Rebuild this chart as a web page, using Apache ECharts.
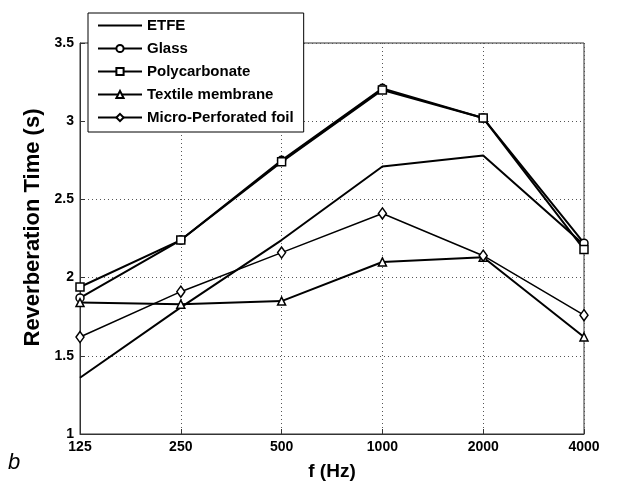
<!DOCTYPE html>
<html>
<head>
<meta charset="utf-8">
<script src="https://cdn.jsdelivr.net/npm/echarts@6/dist/echarts.min.js"></script>
<style>
  html, body { margin: 0; padding: 0; background: #fff; }
  #chart { width: 637px; height: 486px; }
</style>
</head>
<body>
<div id="chart"></div>
<script>
// frequency bands (Hz)
const categories = ["125", "250", "500", "1000", "2000", "4000"];

// reverberation time (s) per material
const etfe = [1.36, 1.81, 2.24, 2.71, 2.78, 2.21];
const glass = [1.87, 2.24, 2.75, 3.21, 3.02, 2.22];
const polycarbonate = [1.94, 2.24, 2.74, 3.20, 3.02, 2.18];
const textileMembrane = [1.84, 1.83, 1.85, 2.10, 2.13, 1.62];
const microPerforated = [1.62, 1.91, 2.16, 2.41, 2.14, 1.76];

const yTicks = [1, 1.5, 2, 2.5, 3, 3.5];

const chart = echarts.init(document.getElementById("chart"));

const tickFont = {
  fontFamily: "Liberation Sans Narrow, Liberation Sans, Arial",
  fontWeight: "bold",
  fontSize: 14,
  color: "#000"
};

function lineSeries(name, data, symbol, width) {
  return {
    name: name,
    type: "line",
    data: data,
    symbol: symbol,
    symbolSize: symbol === "diamond" ? [8, 11] : 8,
    showSymbol: symbol !== "none",
    lineStyle: { color: "#000", width: width },
    itemStyle: { color: "#fff", borderColor: "#000", borderWidth: 1.5 },
    emphasis: { disabled: true },
    animation: false
  };
}

chart.setOption({
  animation: false,
  grid: {
    left: 80,
    right: 53,
    top: 43,
    bottom: 46,
    show: true,
    borderColor: "#333",
    borderWidth: 1
  },
  legend: {
    orient: "vertical",
    left: 88,
    top: 13,
    padding: [4, 10, 6, 9],
    itemGap: 6,
    itemWidth: 44,
    itemHeight: 9,
    backgroundColor: "#fff",
    borderColor: "#000",
    borderWidth: 1,
    borderRadius: 0,
    textStyle: {
      fontFamily: "Liberation Sans, Arial",
      fontWeight: "bold",
      fontSize: 15,
      lineHeight: 17,
      color: "#000"
    },
    data: [
      { name: "ETFE", itemStyle: { opacity: 0 } },
      "Glass",
      "Polycarbonate",
      "Textile membrane",
      "Micro-Perforated foil"
    ]
  },
  xAxis: {
    type: "category",
    data: categories,
    boundaryGap: false,
    name: "f (Hz)",
    nameLocation: "middle",
    nameGap: 28,
    nameTextStyle: {
      fontFamily: "Liberation Sans, Arial",
      fontWeight: "bold",
      fontSize: 19,
      color: "#000"
    },
    axisLine: { lineStyle: { color: "#333" } },
    axisTick: { inside: true, length: 5, lineStyle: { color: "#333" } },
    axisLabel: Object.assign({ margin: 6 }, tickFont),
    splitLine: { show: true, lineStyle: { color: "#555", type: [1, 3] } }
  },
  yAxis: {
    type: "value",
    min: 1,
    max: 3.5,
    interval: 0.5,
    name: "Reverberation Time (s)",
    nameLocation: "middle",
    nameGap: 33,
    nameTextStyle: {
      fontFamily: "Liberation Sans, Arial",
      fontWeight: "bold",
      fontSize: 22,
      color: "#000",
      padding: [0, 0, 0, 22]
    },
    axisLine: { show: true, lineStyle: { color: "#333" } },
    axisTick: { show: true, inside: true, length: 5, lineStyle: { color: "#333" } },
    axisLabel: Object.assign({
      margin: 6,
      formatter: function (v) { return yTicks.indexOf(v) >= 0 ? String(v) : ""; }
    }, tickFont),
    splitLine: { show: true, lineStyle: { color: "#555", type: [1, 3] } }
  },
  graphic: [
    {
      type: "text",
      left: 8,
      top: 452,
      style: {
        text: "b",
        font: "italic 22px Liberation Sans, Arial",
        fill: "#000"
      }
    }
  ],
  series: [
    lineSeries("ETFE", etfe, "none", 2),
    lineSeries("Glass", glass, "circle", 2),
    lineSeries("Polycarbonate", polycarbonate, "rect", 2),
    lineSeries("Textile membrane", textileMembrane, "triangle", 2),
    lineSeries("Micro-Perforated foil", microPerforated, "diamond", 1.5)
  ]
});
</script>
</body>
</html>
